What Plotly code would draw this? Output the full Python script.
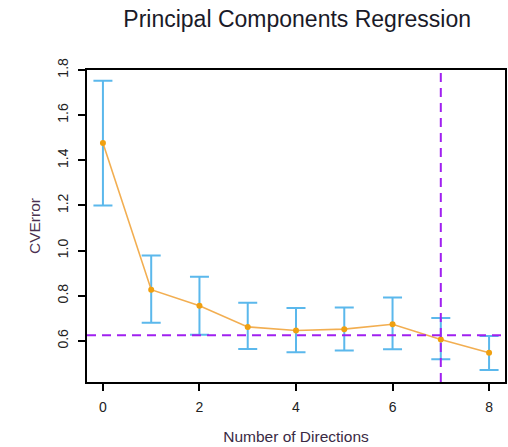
import plotly.graph_objects as go

directions = [0, 1, 2, 3, 4, 5, 6, 7, 8]
cv_error = [1.477, 0.827, 0.756, 0.662, 0.646, 0.652, 0.674, 0.606, 0.548]
err_upper = [1.752, 0.978, 0.884, 0.769, 0.746, 0.748, 0.792, 0.701, 0.622]
err_lower = [1.200, 0.680, 0.627, 0.564, 0.550, 0.558, 0.563, 0.519, 0.471]
best_direction = 7
one_se_level = 0.625
x_ticks = [0, 2, 4, 6, 8]
y_ticks = [0.6, 0.8, 1.0, 1.2, 1.4, 1.6, 1.8]
y_tick_text = ["0.6", "0.8", "1.0", "1.2", "1.4", "1.6", "1.8"]

plus = [u - m for u, m in zip(err_upper, cv_error)]
minus = [m - l for m, l in zip(cv_error, err_lower)]

fig = go.Figure()
fig.add_trace(go.Scatter(
    x=directions, y=cv_error, mode="lines+markers",
    line=dict(color="rgba(240,160,50,0.85)", width=1.6),
    marker=dict(color="#F0A010", size=6),
    error_y=dict(type="data", symmetric=False, array=plus, arrayminus=minus,
                 color="#5BB8EC", thickness=2, width=9.5),
    showlegend=False,
))

fig.add_shape(type="line", xref="paper", yref="y", x0=0, x1=1,
              y0=one_se_level, y1=one_se_level,
              line=dict(color="#A020F0", width=2, dash="9px,6px"))
fig.add_shape(type="line", xref="x", yref="paper", x0=best_direction, x1=best_direction,
              y0=0, y1=1,
              line=dict(color="#A020F0", width=2, dash="9px,6px"))

font_family = "Liberation Sans, Arial, sans-serif"
fig.update_layout(
    width=508, height=447,
    margin=dict(l=87, r=1, t=70, b=65),
    paper_bgcolor="white", plot_bgcolor="white",
    title=dict(text="Principal Components Regression", x=0.585, xanchor="center",
               y=0.957, yanchor="middle",
               font=dict(family=font_family, size=23, color="#1a1a28")),
    font=dict(family=font_family, size=14, color="#222"),
    xaxis=dict(range=[-0.33, 8.33], tickvals=x_ticks, ticktext=[str(v) for v in x_ticks],
               showgrid=False, zeroline=False, showline=True, linecolor="black",
               linewidth=2, mirror=True, ticks="outside", ticklen=7, tickwidth=2,
               tickcolor="black", ticklabelstandoff=4,
               title=dict(text="Number of Directions", standoff=17,
                          font=dict(size=15.5, color="#3a2a44"))),
    yaxis=dict(range=[0.418, 1.8], tickvals=y_ticks, ticktext=y_tick_text,
               tickangle=-90,
               showgrid=False, zeroline=False, showline=True, linecolor="black",
               linewidth=2, mirror=True, ticks="outside", ticklen=7, tickwidth=2,
               tickcolor="black", ticklabelstandoff=4,
               title=dict(text="CVError", standoff=11,
                          font=dict(size=15.5, color="#4a3050"))),
)

fig.write_html("out.html")
